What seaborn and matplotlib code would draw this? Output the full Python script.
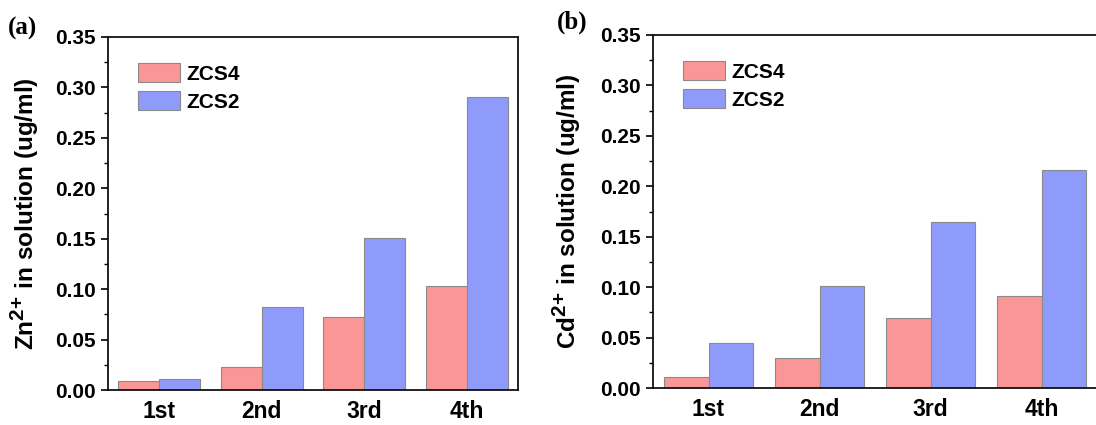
import matplotlib
matplotlib.use("Agg")
import matplotlib.pyplot as plt
import matplotlib._mathtext as _mt
from matplotlib.ticker import MultipleLocator, FormatStrFormatter
import seaborn as sns
import pandas as pd

cycles = ["1st", "2nd", "3rd", "4th"]
series = ["ZCS4", "ZCS2"]
zn_zcs4 = [0.009, 0.023, 0.072, 0.103]
zn_zcs2 = [0.0105, 0.082, 0.151, 0.291]
cd_zcs4 = [0.011, 0.030, 0.069, 0.091]
cd_zcs2 = [0.045, 0.101, 0.165, 0.216]
colors = {"ZCS4": "#FA9696", "ZCS2": "#8F9BFA"}

sns.set_style("ticks")
plt.rcParams["font.family"] = ["Liberation Sans", "DejaVu Sans"]
plt.rcParams["font.weight"] = "bold"
plt.rcParams["mathtext.fontset"] = "custom"
plt.rcParams["mathtext.rm"] = "Liberation Sans:bold"
plt.rcParams["mathtext.bf"] = "Liberation Sans:bold"
plt.rcParams["mathtext.it"] = "Liberation Sans:bold"
plt.rcParams["mathtext.default"] = "regular"
for k in ["text.color", "axes.labelcolor", "xtick.color", "ytick.color"]:
    plt.rcParams[k] = "black"
_mt.SHRINK_FACTOR = 0.85

def long_df(a, b):
    return pd.DataFrame({
        "cycle": cycles * 2,
        "series": [series[0]] * 4 + [series[1]] * 4,
        "value": list(a) + list(b),
    })

W, H = 1096, 425
fig = plt.figure(figsize=(W / 100, H / 100), dpi=100)

def px_axes(l, t, r, b):
    return fig.add_axes([l / W, 1 - b / H, (r - l) / W, (b - t) / H])

ax1 = px_axes(108, 37, 518, 390)
ax2 = px_axes(653, 35, 1097, 388)

for ax, (a, b), ylab, tag, tagxy, ylx in [
    (ax1, (zn_zcs4, zn_zcs2), r"Zn$^{2\!+}\,$in solution (ug/ml)", "(a)", (8, 35), 41),
    (ax2, (cd_zcs4, cd_zcs2), r"Cd$^{2\!+}\,$in solution (ug/ml)", "(b)", (557, 29), 583),
]:
    df = long_df(a, b)
    sns.barplot(data=df, x="cycle", y="value", hue="series", palette=colors,
                saturation=1, width=0.8, edgecolor="#8a8a8a", linewidth=0.8,
                ax=ax)
    ax.set_ylim(0, 0.35)
    ax.set_xlim(-0.5, 3.5)
    ax.yaxis.set_major_locator(MultipleLocator(0.05))
    ax.yaxis.set_minor_locator(MultipleLocator(0.025))
    ax.yaxis.set_major_formatter(FormatStrFormatter("%.2f"))
    ax.tick_params(axis="y", which="major", direction="out", length=5, width=1.2,
                   labelsize=15, pad=4)
    ax.tick_params(axis="y", which="minor", direction="out", length=3, width=1.0)
    ax.tick_params(axis="x", length=0, labelsize=16.5, pad=7)
    for lbl in ax.get_xticklabels() + ax.get_yticklabels():
        lbl.set_fontweight("bold")
    for s in ax.spines.values():
        s.set_visible(True)
        s.set_linewidth(1.3)
        s.set_color("#111111")
    ax.set_xlabel("")
    ax.set_ylabel(ylab, fontsize=17.5, fontweight="bold")
    pos = ax.get_position()
    ax.yaxis.set_label_coords((ylx - pos.x0 * W) / (pos.width * W), 0.5)
    ax.legend(loc="upper left", frameon=False,
              handlelength=2.0, handleheight=1.0, labelspacing=0.35,
              handletextpad=0.3, borderaxespad=0.0,
              bbox_to_anchor=(22 / (pos.width * W), 1 - 18 / (pos.height * H)),
              prop={"weight": "bold", "size": 15})
    fig.text(tagxy[0] / W, 1 - tagxy[1] / H, tag, fontsize=18,
             family=["Liberation Serif"], fontweight="bold", ha="left", va="baseline")

fig.savefig("out.png", dpi=100)
